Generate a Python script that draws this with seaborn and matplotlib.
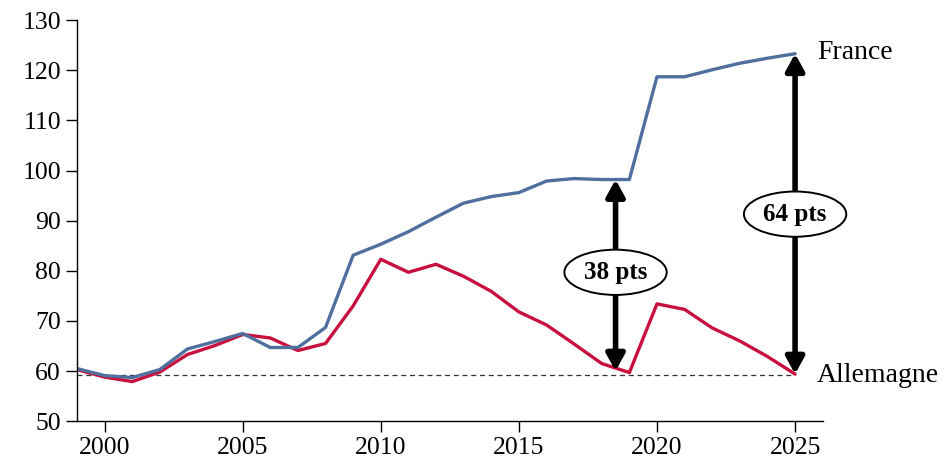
import pandas as pd
import seaborn as sns
import matplotlib.pyplot as plt

years = list(range(1999, 2026))
france = [60.5, 59.1, 58.7, 60.3, 64.4, 65.9, 67.5, 64.7, 64.7, 68.7, 83.1, 85.3, 87.8,
          90.7, 93.5, 94.8, 95.6, 97.9, 98.4, 98.2, 98.2, 118.7, 118.7, 120.1, 121.4,
          122.4, 123.3]
allemagne = [60.3, 58.8, 57.9, 59.8, 63.3, 65.1, 67.3, 66.6, 64.1, 65.5, 73.0, 82.3, 79.7,
             81.3, 78.9, 75.9, 71.8, 69.2, 65.4, 61.5, 59.7, 73.4, 72.3, 68.6, 66.0,
             62.9, 59.4]
baseline = 59.2
gaps = [(2018.5, 98.2, 60.0, "38 pts", 79.7), (2025, 123.3, 59.4, "64 pts", 91.3)]

df = pd.DataFrame({
    "Année": years * 2,
    "Valeur": france + allemagne,
    "Pays": ["France"] * len(years) + ["Allemagne"] * len(years),
})

sns.set_style("ticks")
plt.rcParams["font.family"] = ["Liberation Serif", "DejaVu Serif"]
plt.rcParams["text.color"] = "black"
plt.rcParams["xtick.color"] = "black"
plt.rcParams["ytick.color"] = "black"

fig = plt.figure(figsize=(9.5, 4.68), dpi=100)
ax = fig.add_axes([0.081, 0.1, 0.785, 0.857])

ax.hlines(baseline, years[0], years[-1], colors="#333333", linestyles=(0, (4, 3)), lw=0.9, zorder=1)

sns.lineplot(data=df, x="Année", y="Valeur", hue="Pays",
             palette={"France": "#4f6f9f", "Allemagne": "#c8103e"},
             hue_order=["Allemagne", "France"], lw=2.4, legend=False, ax=ax, zorder=2)

for x, top, bottom, label, ymid in gaps:
    ax.annotate("", xy=(x, top), xytext=(x, bottom),
                arrowprops=dict(arrowstyle="<|-|>,head_length=1.0,head_width=0.55",
                                color="black", lw=4, shrinkA=0, shrinkB=0),
                zorder=4)
    ax.text(x, ymid, label, ha="center", va="center", fontsize=18, fontweight="bold",
            bbox=dict(boxstyle="ellipse,pad=0.18", fc="white", ec="black", lw=1.4), zorder=5)

ax.text(2025.8, france[-1] + 0.3, "France", fontsize=20, ha="left", va="center")
ax.text(2025.8, allemagne[-1] - 0.3, "Allemagne", fontsize=20, ha="left", va="center")

ax.set_xlim(1999, 2026)
ax.set_ylim(50, 130)
ax.set_xticks([2000, 2005, 2010, 2015, 2020, 2025])
ax.set_yticks(range(50, 131, 10))
ax.set_xlabel("")
ax.set_ylabel("")
ax.tick_params(axis="both", labelsize=18.5, length=8, width=1, color="black", direction="out")
for side in ["top", "right"]:
    ax.spines[side].set_visible(False)
for side in ["left", "bottom"]:
    ax.spines[side].set_color("black")
    ax.spines[side].set_linewidth(1)

fig.savefig("out.png", dpi=100)
